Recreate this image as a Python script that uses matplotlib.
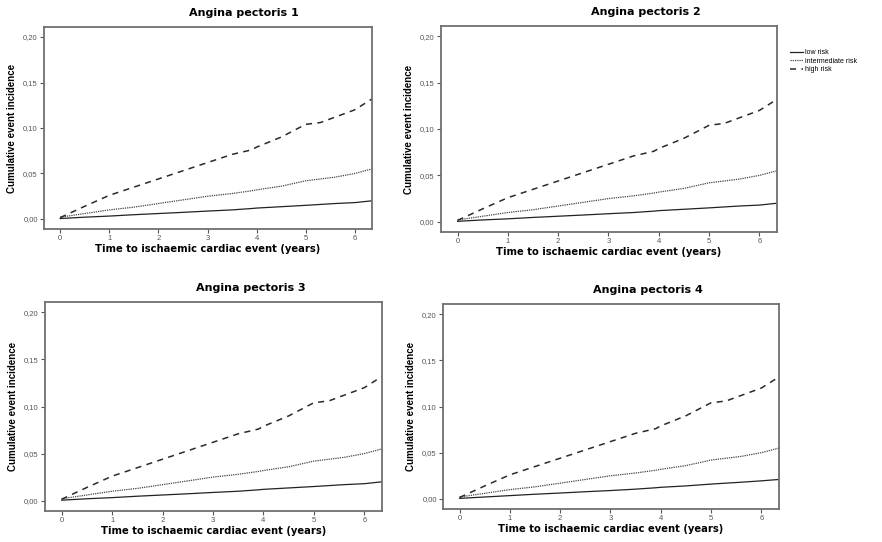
import numpy as np
import matplotlib
matplotlib.use("Agg")
import matplotlib.pyplot as plt

plt.rcParams['font.family'] = ['Liberation Sans', 'DejaVu Sans']

# years of follow-up
t = [0, 0.5, 1, 1.5, 2, 2.5, 3, 3.5, 3.9, 4, 4.5, 5, 5.3, 5.6, 6, 6.35]

high = [0.0015, 0.014, 0.026, 0.035, 0.044, 0.053, 0.062, 0.071, 0.076, 0.079,
        0.090, 0.104, 0.106, 0.112, 0.120, 0.132]
inter = [0.002, 0.006, 0.010, 0.013, 0.017, 0.021, 0.025, 0.028, 0.031, 0.032,
         0.036, 0.042, 0.044, 0.046, 0.050, 0.055]
low = [0.0005, 0.002, 0.0032, 0.0047, 0.006, 0.0073, 0.0087, 0.010, 0.0115, 0.012,
       0.0135, 0.015, 0.016, 0.017, 0.018, 0.020]
low4 = [0.0005, 0.002, 0.0035, 0.005, 0.0063, 0.0077, 0.009, 0.0105, 0.012, 0.0125,
        0.014, 0.016, 0.017, 0.018, 0.0195, 0.021]

titles = ["Angina pectoris 1", "Angina pectoris 2", "Angina pectoris 3", "Angina pectoris 4"]
panel_data = [(low, inter, high), (low, inter, high), (low, inter, high), (low4, inter, high)]
yticks = [0, 0.05, 0.10, 0.15, 0.20]
ytick_labels = ["0,00", "0,05", "0,10", "0,15", "0,20"]
xticks = [0, 1, 2, 3, 4, 5, 6]
series_names = ["low risk", "intermediate risk", "high risk"]

W, H = 882, 542
# axes boxes in pixels: left, top, right, bottom
boxes = [(44, 27, 372, 229), (441, 26, 777, 232), (45, 302, 382, 511), (443, 304, 779, 509)]

fig = plt.figure(figsize=(W / 100, H / 100), dpi=100)
frame_col = '#707070'
styles = [dict(ls='-', lw=0.9, color='#222222'),
          dict(ls=(0, (1, 0.8)), lw=0.9, color='#444444'),
          dict(ls=(0, (4, 3.5)), lw=1.1, color='#2a2a2a')]

axes = []
for (l, tp, r, b), title, data in zip(boxes, titles, panel_data):
    ax = fig.add_axes([l / W, 1 - b / H, (r - l) / W, (b - tp) / H])
    for y, st in zip(data, styles):
        ax.plot(t, y, **st)
    ax.set_xlim(-0.33, 6.35)
    ax.set_ylim(-0.011, 0.211)
    ax.set_yticks(yticks)
    ax.set_yticklabels(ytick_labels)
    ax.set_xticks(xticks)
    ax.tick_params(labelsize=5.5, colors='#555555', length=3, width=0.8, pad=1.5)
    for s in ax.spines.values():
        s.set_color(frame_col)
        s.set_linewidth(1.3)
    ax.set_xlabel("Time to ischaemic cardiac event (years)", fontsize=7.2,
                  fontweight='bold', family='DejaVu Sans', labelpad=1.5)
    ax.set_ylabel("Cumulative event incidence", fontsize=7, fontweight='bold',
                  family=['Liberation Sans Narrow', 'Liberation Sans'], labelpad=4)
    ax.text(0.61, 1.045, title, transform=ax.transAxes, ha='center', va='bottom',
            fontsize=8, fontweight='bold', family='DejaVu Sans')
    axes.append(ax)

handles = axes[1].get_lines()
fig.legend(handles, series_names, loc='upper left', bbox_to_anchor=(790 / W, 1 - 49 / H),
           frameon=False, fontsize=5, handlelength=1.8, handletextpad=0.3,
           labelspacing=0.25, borderaxespad=0, borderpad=0)

fig.savefig("out.png", dpi=100)
